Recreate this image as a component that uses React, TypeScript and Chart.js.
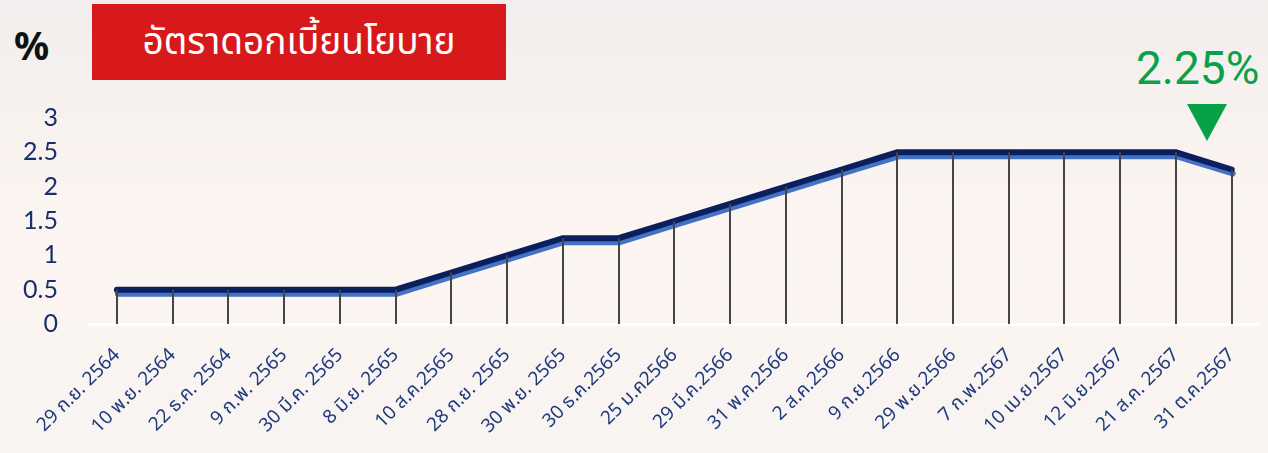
import React, { useEffect, useRef } from 'react';
import { Chart, registerables } from 'chart.js';

Chart.register(...registerables);

const dateLabels: string[] = [
  '29 ก.ย. 2564',
  '10 พ.ย. 2564',
  '22 ธ.ค. 2564',
  '9 ก.พ. 2565',
  '30 มี.ค. 2565',
  '8 มิ.ย. 2565',
  '10 ส.ค.2565',
  '28 ก.ย. 2565',
  '30 พ.ย. 2565',
  '30 ธ.ค.2565',
  '25 ม.ค2566',
  '29 มี.ค.2566',
  '31 พ.ค.2566',
  '2 ส.ค.2566',
  '9 ก.ย.2566',
  '29 พ.ย.2566',
  '7 ก.พ.2567',
  '10 เม.ย.2567',
  '12 มิ.ย.2567',
  '21 ส.ค. 2567',
  '31 ต.ค.2567',
];

const policyRates: number[] = [
  0.5, 0.5, 0.5, 0.5, 0.5, 0.5, 0.75, 1.0, 1.25, 1.25, 1.5, 1.75, 2.0, 2.25, 2.5, 2.5, 2.5, 2.5, 2.5, 2.5, 2.25,
];

const yMin = 0;
const yMax = 3;
const yStep = 0.5;

const titleText = 'อัตราดอกเบี้ยนโยบาย';
const unitText = '%';
const latestText = '2.25%';

const shadowPlugin = {
  id: 'lineShadow',
  beforeDatasetDraw(chart: any) {
    const ctx = chart.ctx;
    ctx.save();
    ctx.shadowColor = '#4472c4';
    ctx.shadowOffsetX = 1;
    ctx.shadowOffsetY = 4;
    ctx.shadowBlur = 0;
  },
  afterDatasetDraw(chart: any) {
    chart.ctx.restore();
  },
};

const dropLinePlugin = {
  id: 'dropLines',
  afterDatasetsDraw(chart: any) {
    const ctx = chart.ctx;
    const meta = chart.getDatasetMeta(0);
    const bottom = chart.chartArea.bottom;
    ctx.save();
    ctx.strokeStyle = '#454545';
    ctx.lineWidth = 2;
    meta.data.forEach((pt: any) => {
      ctx.beginPath();
      ctx.moveTo(Math.round(pt.x), pt.y);
      ctx.lineTo(Math.round(pt.x), bottom);
      ctx.stroke();
    });
    ctx.restore();
  },
};

function RateChart() {
  const ref = useRef<HTMLCanvasElement | null>(null);
  useEffect(() => {
    if (!ref.current) return;
    const chart = new Chart(ref.current, {
      type: 'line',
      data: {
        labels: dateLabels,
        datasets: [
          {
            data: policyRates,
            borderColor: '#0b1f5e',
            borderWidth: 6,
            borderCapStyle: 'round',
            borderJoinStyle: 'miter',
            pointRadius: 0,
            tension: 0,
            fill: false,
            clip: false as any,
          },
        ],
      },
      options: {
        responsive: false,
        animation: false,
        layout: { padding: { top: 118, right: 7, left: 0, bottom: 0 } },
        plugins: {
          legend: { display: false },
          tooltip: { enabled: false },
        },
        scales: {
          x: {
            type: 'category',
            offset: true,
            grid: { display: false, drawTicks: false },
            border: { display: true, color: '#ffffff', width: 3 },
            ticks: {
              autoSkip: false,
              minRotation: 45,
              maxRotation: 45,
              padding: 20,
              color: '#1f3a7c',
              font: { size: 19, family: '"Noto Sans", "Noto Sans Thai", Tahoma, sans-serif' },
            },
            afterFit(scale: any) {
              scale.height = 129;
            },
          },
          y: {
            min: yMin,
            max: yMax,
            grid: { display: false, drawTicks: false },
            border: { display: false },
            ticks: {
              stepSize: yStep,
              padding: 31,
              color: '#1a2f6e',
              font: { size: 25, family: 'Lato, "Open Sans", sans-serif' },
              callback: (v: any) => String(v),
            },
            afterFit(scale: any) {
              scale.width = 89;
            },
          },
        },
      },
      plugins: [shadowPlugin, dropLinePlugin],
    } as any);
    return () => chart.destroy();
  }, []);
  return <canvas ref={ref} width={1268} height={453} style={{ position: 'absolute', left: 0, top: 0 }} />;
}

export default function App() {
  useEffect(() => {
    document.body.style.margin = '0';
  }, []);
  return (
    <div
      style={{
        position: 'fixed',
        left: 0,
        top: 0,
        width: 1268,
        height: 453,
        overflow: 'hidden',
        background:
          'linear-gradient(180deg, #f1eeed 0%, #f8f2ef 25%, #fcf5f1 55%, #f8f4f2 100%)',
      }}
    >
      <div
        style={{
          position: 'absolute',
          left: 14,
          top: 21,
          fontFamily: '"Noto Sans", sans-serif',
          fontWeight: 700,
          fontSize: 39,
          color: '#111',
          lineHeight: '48px',
        }}
      >
        {unitText}
      </div>
      <div
        style={{
          position: 'absolute',
          left: 92,
          top: 4,
          width: 414,
          height: 76,
          background: '#d7191c',
          color: '#ffffff',
          display: 'flex',
          alignItems: 'center',
          justifyContent: 'center',
          fontFamily: '"Noto Sans", "Noto Sans Thai", Tahoma, sans-serif',
          fontSize: 37,
        }}
      >
        {titleText}
      </div>
      <div
        style={{
          position: 'absolute',
          left: 1136,
          top: 38,
          fontFamily: 'Roboto, "Noto Sans", sans-serif',
          fontSize: 46,
          color: '#0aa14a',
          lineHeight: '60px',
        }}
      >
        {latestText}
      </div>
      <svg style={{ position: 'absolute', left: 1187, top: 104 }} width={40} height={37}>
        <polygon points="0,0 40,0 20,37" fill="#07a245" />
      </svg>
      <RateChart />
    </div>
  );
}
